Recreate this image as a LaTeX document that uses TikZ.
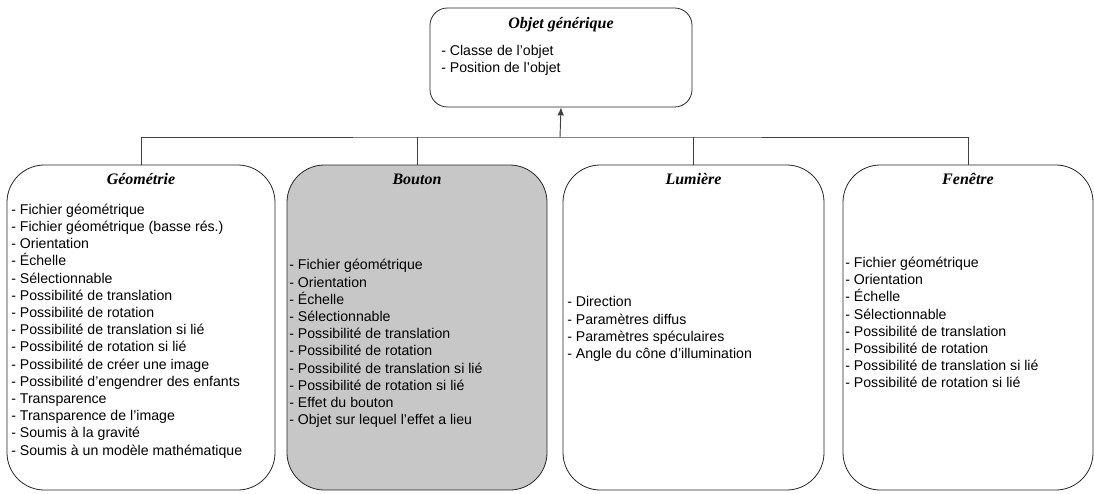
\documentclass[tikz,border=0pt]{standalone}
\usepackage{fontspec}
\setmainfont{Liberation Sans}
\newfontfamily\titlefont{Liberation Serif}
\usetikzlibrary{positioning}
\usetikzlibrary{arrows.meta}

\begin{document}
\begin{tikzpicture}[x=0.75pt, y=-0.75pt,
  box/.style={draw=black!85, line width=0.6pt, rounded corners=28pt, inner sep=0pt,
    minimum height=243.75pt},
  title/.style={font=\titlefont\bfseries\itshape\fontsize{12}{14}\selectfont, inner sep=0pt},
  items/.style={align=left, anchor=west, inner sep=0pt, font=\fontsize{10.6}{12.9}\selectfont},
  wire/.style={draw=black!75, line width=0.7pt}
  ]
  \useasboundingbox (0,0) rectangle (1094,493);

  % generic object on top
  \node [box, rounded corners=13pt, minimum width=196.5pt, minimum height=74.25pt] (obj) at (561,57.5) {};
  \node [title, below=7.5pt of obj.north] (objt) {Objet générique};
  \node [items] (objl) at (441,60) {- Classe de l'objet\\- Position de l'objet};

  % the four kinds of objects
  \node [box, minimum width=201pt] (geo) at (141,327.5) {};
  \node [box, fill=black!22, minimum width=195pt] (bou) at (417,327.5) {};
  \node [box, minimum width=195.75pt] (lum) at (693.5,327.5) {};
  \node [box, minimum width=187.5pt] (fen) at (968,327.5) {};

  \node [title, below=6.5pt of geo.north] (geot) {Géométrie};
  \node [title, below=6.5pt of bou.north] (bout) {Bouton};
  \node [title, below=6.5pt of lum.north] (lumt) {Lumière};
  \node [title, below=6.5pt of fen.north] (fent) {Fenêtre};

  \node [items] (geol) at (11,331) {- Fichier géométrique\\- Fichier géométrique (basse rés.)\\- Orientation\\- Échelle\\- Sélectionnable\\- Possibilité de translation\\- Possibilité de rotation\\- Possibilité de translation si lié\\- Possibilité de rotation si lié\\- Possibilité de créer une image\\- Possibilité d'engendrer des enfants\\- Transparence\\- Transparence de l'image\\- Soumis à la gravité\\- Soumis à un modèle mathématique};
  \node [items] (boul) at (289,343.5) {- Fichier géométrique\\- Orientation\\- Échelle\\- Sélectionnable\\- Possibilité de translation\\- Possibilité de rotation\\- Possibilité de translation si lié\\- Possibilité de rotation si lié\\- Effet du bouton\\- Objet sur lequel l'effet a lieu};
  \node [items] (luml) at (567,329) {- Direction\\- Paramètres diffus\\- Paramètres spéculaires\\- Angle du cône d'illumination};
  \node [items] (fenl) at (845,322.5) {- Fichier géométrique\\- Orientation\\- Échelle\\- Sélectionnable\\- Possibilité de translation\\- Possibilité de rotation\\- Possibilité de translation si lié\\- Possibilité de rotation si lié};

  % inheritance
  \coordinate (bus) at (560,137);
  \draw [wire] (geo.north) |- (bus) -| (fen.north);
  \foreach \b in {bou,lum}
    \draw [wire] (\b.north) -- (\b.north |- bus);
  \draw [wire, -{Latex[length=6pt,width=5pt]}] (bus) -- (obj.south);
\end{tikzpicture}
\end{document}
